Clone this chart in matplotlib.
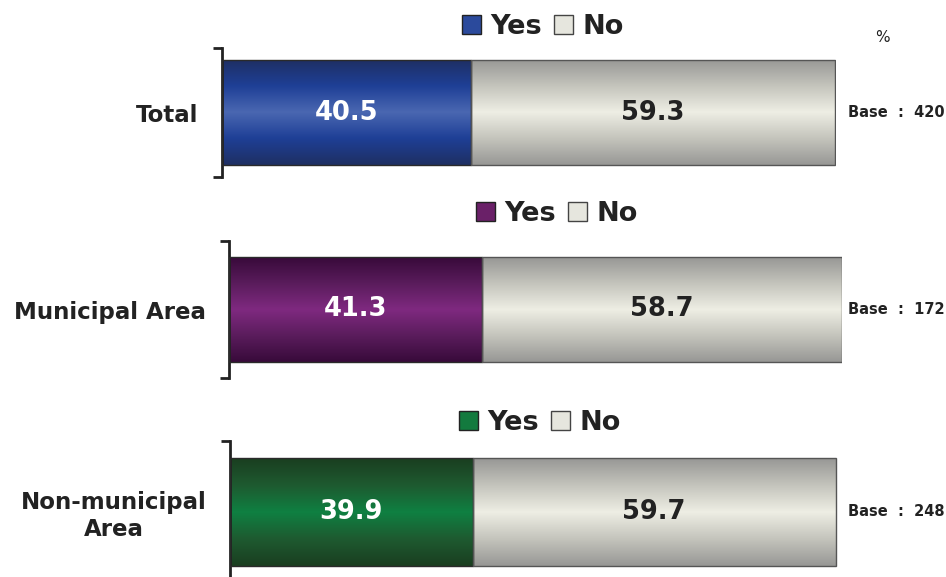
import matplotlib.pyplot as plt
import numpy as np
from matplotlib.colors import LinearSegmentedColormap
from matplotlib.patches import Patch

# Data
categories = ['Total', 'Municipal Area', 'Non-municipal\nArea']
yes_values = [40.5, 41.3, 39.9]
no_values = [59.3, 58.7, 59.7]
bases = [420, 172, 248]
legend_labels = ['Yes', 'No']

# Gradient stops (edge -> centre -> edge) for each series
yes_grads = [
    ['#1f2f62', '#1e3f96', '#4a67b1', '#1e3f96', '#1f2f62'],
    ['#380a3a', '#5a1c5c', '#7f2980', '#5a1c5c', '#380a3a'],
    ['#1a3e20', '#1e5a30', '#0f8042', '#1e5a30', '#1a3e20'],
]
yes_swatch = ['#2b4a9c', '#6a2068', '#137a3e']
no_grad = ['#979795', '#c4c4bc', '#eeeee4', '#c4c4bc', '#979795']
no_swatch = '#e6e6de'

W, H = 946, 577
# panel boxes in pixels: left, right, top, bottom
panels = [(222, 836, 48, 177), (229, 842, 241, 378), (230, 838, 441, 583)]
bar_heights = [0.82, 0.76, 0.76]
legend_pos = [(543, 27), (557, 214), (540, 423)]
text_col = '#222222'

fig = plt.figure(figsize=(W / 100, H / 100), dpi=100)
plt.rcParams['font.family'] = ['DejaVu Sans']


def gradient_bar(ax, patch, colors):
    cmap = LinearSegmentedColormap.from_list('g', colors)
    grad = np.linspace(0, 1, 256).reshape(-1, 1)
    x0, y0 = patch.get_x(), patch.get_y()
    w, h = patch.get_width(), patch.get_height()
    im = ax.imshow(grad, cmap=cmap, aspect='auto', origin='lower',
                   extent=[x0, x0 + w, y0, y0 + h], zorder=2,
                   interpolation='bilinear')
    im.set_clip_path(patch)


for i, (l, r, t, b) in enumerate(panels):
    ax = fig.add_axes([l / W, 1 - b / H, (r - l) / W, (b - t) / H])
    bh = bar_heights[i]
    yb = ax.barh([0], [yes_values[i]], height=bh, facecolor='none',
                 edgecolor='#2a2a2a', linewidth=1.0, zorder=3)
    nb = ax.barh([0], [no_values[i]], left=[yes_values[i]], height=bh,
                 facecolor='none', edgecolor='#555555', linewidth=1.0, zorder=3)
    gradient_bar(ax, yb.patches[0], yes_grads[i])
    gradient_bar(ax, nb.patches[0], no_grad)

    ax.text(yes_values[i] / 2, 0, f'{yes_values[i]:.1f}', ha='center', va='center',
            color='white', fontsize=18.5, fontweight='bold', zorder=4)
    ax.text(yes_values[i] + no_values[i] / 2, 0, f'{no_values[i]:.1f}', ha='center',
            va='center', color=text_col, fontsize=18.5, fontweight='bold', zorder=4)

    ax.set_xlim(0, 100)
    ax.set_ylim(-0.5, 0.5)
    ax.set_xticks([])
    ax.set_yticks([0])
    ax.set_yticklabels([categories[i]], fontsize=16.5, fontweight='bold',
                       color=text_col, multialignment='center')
    ax.tick_params(axis='y', length=0, pad=17)
    for s in ['top', 'right', 'bottom']:
        ax.spines[s].set_visible(False)
    ax.spines['left'].set_linewidth(2)
    ax.spines['left'].set_color(text_col)
    # bracket ends
    tick = 9 / (r - l)
    for yy in (0, 1):
        ax.plot([-tick, 0], [yy, yy], transform=ax.transAxes, color=text_col,
                lw=2, clip_on=False, solid_capstyle='butt')

    ax.text(848 / W, 1 - (t + b) / 2 / H, f'Base  :  {bases[i]}', transform=fig.transFigure,
            ha='left', va='center', fontsize=10.5, fontweight='bold', color=text_col)

    handles = [Patch(facecolor=yes_swatch[i], edgecolor='#222222', lw=1),
               Patch(facecolor=no_swatch, edgecolor='#444444', lw=1)]
    cx, cy = legend_pos[i]
    fig.legend(handles, legend_labels, loc='center', bbox_to_anchor=(cx / W, 1 - cy / H),
               ncol=2, frameon=False, handlelength=0.7, handleheight=0.7,
               handletextpad=0.35, columnspacing=0.45,
               prop={'size': 19.5, 'weight': 'bold'}, labelcolor=text_col)

fig.text(882 / W, 1 - 37 / H, '%', ha='center', va='center', fontsize=11, color=text_col)

fig.savefig('out.png', dpi=100)
